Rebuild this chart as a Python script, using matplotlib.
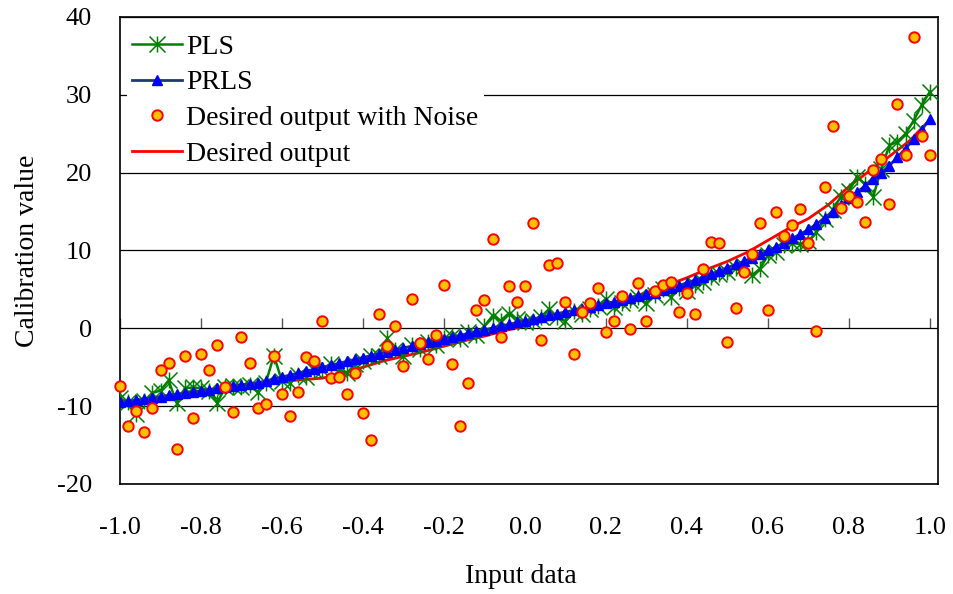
import numpy as np
import matplotlib
matplotlib.use('Agg')
import matplotlib.pyplot as plt
from matplotlib.path import Path

plt.rcParams['font.family'] = ['Liberation Serif', 'DejaVu Serif']
plt.rcParams['axes.unicode_minus'] = False

# inputs: -1.0 .. 1.0 in steps of 0.02
x = np.linspace(-1.0, 1.0, 101)

pls = [-9.0, -9.5, -11.0, -9.3, -8.3, -8.0, -6.7, -9.6, -7.7, -7.6,
       -7.7, -8.0, -9.6, -7.5, -7.4, -7.6, -7.3, -8.2, -7.0, -3.5,
       -6.8, -7.0, -6.0, -6.2, -5.4, -5.3, -4.6, -5.2, -5.8, -4.6,
       -4.2, -3.6, -3.5, -1.3, -2.8, -3.5, -2.2, -2.6, -1.8, -2.1,
       -1.3, -1.0, -1.4, -0.5, -0.8, 0.3, 1.6, 1.0, 1.9, 1.2,
       0.8, 1.0, 1.5, 2.5, 1.4, 0.9, 2.2, 1.9, 2.5, 2.9,
       3.8, 2.8, 3.3, 3.6, 4.0, 3.2, 4.3, 5.0, 4.0, 5.2,
       4.8, 5.6, 5.9, 6.6, 7.0, 7.2, 7.8, 8.0, 6.8, 7.6,
       9.4, 9.8, 10.7, 11.0, 10.8, 11.2, 12.4, 14.0, 15.2, 16.9,
       17.6, 19.5, 18.5, 16.9, 20.5, 23.5, 24.0, 25.0, 26.7, 28.7,
       30.4]

prls = [-9.5, -9.4, -9.2, -9.1, -8.9, -8.8, -8.6, -8.5, -8.3, -8.2,
        -8.0, -7.9, -7.7, -7.6, -7.4, -7.3, -7.1, -7.0, -6.75, -6.5,
        -6.25, -6.0, -5.75, -5.5, -5.25, -5.0, -4.75, -4.5, -4.25, -4.0,
        -3.75, -3.5, -3.25, -3.0, -2.75, -2.5, -2.3, -2.05, -1.8, -1.6,
        -1.35, -1.1, -0.9, -0.65, -0.4, -0.2, 0.05, 0.3, 0.5, 0.75,
        1.0, 1.2, 1.45, 1.65, 1.9, 2.1, 2.3, 2.5, 2.75, 2.95,
        3.2, 3.4, 3.65, 3.9, 4.1, 4.35, 4.6, 4.9, 5.2, 5.5,
        5.85, 6.2, 6.6, 7.0, 7.4, 7.8, 8.2, 8.6, 9.05, 9.5,
        10.0, 10.45, 11.0, 11.55, 12.1, 12.7, 13.4, 14.2, 15.0, 15.8,
        16.7, 17.5, 18.3, 19.2, 20.0, 20.9, 22.0, 23.1, 24.3, 25.5,
        26.9]

noisy = [-7.4, -12.5, -10.6, -13.3, -10.3, -5.4, -4.5, -15.5, -3.5, -11.5,
         -3.3, -5.4, -2.1, -7.6, -10.7, -1.1, -4.5, -10.3, -9.7, -3.5,
         -8.4, -11.3, -8.2, -3.7, -4.2, 0.9, -6.4, -6.2, -8.5, -5.8,
         -10.9, -14.3, 1.9, -2.3, 0.3, -4.8, 3.8, -1.9, -3.9, -0.9,
         5.6, -4.6, -12.5, -7.0, 2.3, 3.6, 11.5, -1.1, 5.4, 3.4,
         5.4, 13.5, -1.5, 8.1, 8.4, 3.4, -3.3, 2.1, 3.2, 5.2,
         -0.5, 0.9, 4.2, -0.1, 5.8, 0.9, 4.8, 5.6, 6.0, 2.1,
         4.6, 1.9, 7.6, 11.1, 10.9, -1.7, 2.6, 7.2, 9.6, 13.5,
         2.4, 15.0, 11.9, 13.3, 15.3, 10.9, -0.3, 18.2, 26.0, 15.4,
         17.0, 16.2, 13.7, 20.3, 21.8, 16.0, 28.8, 22.3, 37.4, 24.7,
         22.3]

# desired output read every 0.05
x_des = np.linspace(-1.0, 1.0, 41)
desired = [-9.9, -9.5, -9.0, -8.6, -8.2, -7.7, -7.3, -7.0, -6.8, -6.6,
           -6.4, -5.8, -5.0, -4.2, -3.6, -3.0, -2.3, -1.6, -1.0, -0.3,
           0.3, 1.0, 1.7, 2.4, 3.1, 3.8, 4.6, 5.5, 6.5, 7.6,
           8.6, 9.8, 11.3, 12.8, 14.1, 15.9, 18.2, 20.2, 22.1, 24.1,
           26.8]

xticks = [-1.0, -0.8, -0.6, -0.4, -0.2, 0.0, 0.2, 0.4, 0.6, 0.8, 1.0]
yticks = [-20, -10, 0, 10, 20, 30, 40]

# excel style asterisk: x with a vertical bar
star = Path([(0, -1), (0, 1), (-1, -1), (1, 1), (-1, 1), (1, -1)],
            [Path.MOVETO, Path.LINETO, Path.MOVETO, Path.LINETO, Path.MOVETO, Path.LINETO])

fig = plt.figure(figsize=(9.54, 5.94), dpi=100)
ax = fig.add_axes([0.1258, 0.1852, 0.8574, 0.7862])

ax.plot(x, pls, color='#008000', lw=1.8, marker=star, ms=11.5, mew=1.1,
        mec='#008000', label='PLS', zorder=3)
ax.plot(x, prls, color='#1f3a6e', lw=2.0, marker='^', ms=7.5, mfc='#0000ff',
        mec='#0000ff', label='PRLS', zorder=4)
ax.plot(x, noisy, ls='none', marker='o', ms=7.5, mfc='#ffc000', mec='#ff0000',
        mew=1.4, label='Desired output with Noise', zorder=5, clip_on=False)
ax.plot(x_des, desired, color='#ff0000', lw=2.0, label='Desired output', zorder=2)

ax.set_xlim(-1.0, 1.02)
ax.set_ylim(-20, 40)
ax.set_xticks(xticks)
ax.set_xticklabels(['%.1f' % v for v in xticks])
ax.set_yticks(yticks)
ax.tick_params(axis='both', length=0, labelsize=19)
ax.tick_params(axis='x', pad=24)
ax.tick_params(axis='y', pad=20)
ax.grid(axis='y', color='black', lw=0.9)
ax.set_axisbelow(True)
for s in ax.spines.values():
    s.set_linewidth(1.2)

# tick marks sit on the zero line
sec = ax.secondary_xaxis(0, transform=ax.transData)
sec.set_xticks(xticks)
sec.tick_params(direction='in', length=7, width=1.0, color='#555555',
                labelbottom=False, labeltop=False)
sec.spines['bottom'].set_visible(False)

ax.set_xlabel('Input data', fontsize=20)
ax.xaxis.set_label_coords(0.49, -0.172)
ax.set_ylabel('Calibration value', fontsize=20)
ax.yaxis.set_label_coords(-0.098, 0.5)

leg = ax.legend(loc='upper left', bbox_to_anchor=(0.008, 0.975), fontsize=20,
                frameon=True, fancybox=False, facecolor='white', edgecolor='none',
                framealpha=1, handlelength=1.8, handletextpad=0.15,
                labelspacing=0.37, borderpad=0.2, borderaxespad=0)

fig.savefig('out.png', dpi=100)
